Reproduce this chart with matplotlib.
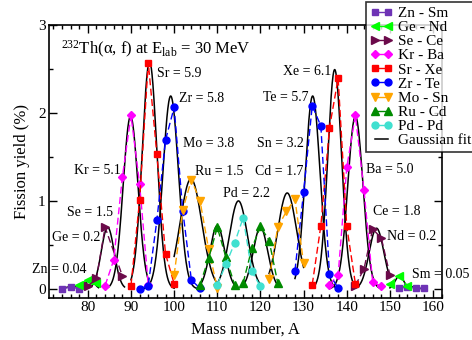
import numpy as np
import matplotlib.pyplot as plt
from matplotlib.lines import Line2D
from matplotlib.ticker import MultipleLocator, FormatStrFormatter

plt.rcParams["font.family"] = ["Liberation Serif", "DejaVu Serif"]
plt.rcParams["mathtext.fontset"] = "custom"
plt.rcParams["mathtext.rm"] = "Liberation Serif"
plt.rcParams["mathtext.it"] = "Liberation Serif:italic"

# datos: numero masico y rendimiento (%)
a_zn = [74, 76, 78]
y_zn = [0.005, 0.02, 0.005]
a_ge = [78, 80, 82]
y_ge = [0.05, 0.10, 0.07]
a_se = [80, 82, 84, 88]
y_se = [0.03, 0.12, 0.70, 0.15]
a_kr = [84, 86, 88, 90, 92, 94]
y_kr = [0.04, 0.33, 1.27, 1.97, 1.19, 0.05]
a_sr = [90, 92, 94, 96, 98, 100]
y_sr = [0.04, 1.01, 2.57, 1.53, 0.40, 0.06]
a_zr = [92, 94, 96, 98, 100, 102, 104, 106]
y_zr = [0.0, 0.04, 0.78, 1.69, 2.06, 0.89, 0.10, 0.01]
a_mo = [100, 102, 104, 106, 108, 110]
y_mo = [0.16, 0.90, 1.24, 1.00, 0.45, 0.01]
a_ru = [106, 108, 110, 112, 114]
y_ru = [0.05, 0.35, 0.70, 0.36, 0.05]
a_pd = [110, 112, 114, 116, 118, 120]
y_pd = [0.05, 0.28, 0.52, 0.81, 0.20, 0.03]
a_cd = [116, 118, 120, 122, 124]
y_cd = [0.07, 0.46, 0.71, 0.55, 0.07]
a_sn = [122, 124, 126, 128, 130]
y_sn = [0.11, 0.70, 0.88, 1.02, 0.29]
a_te = [128, 130, 132, 134, 136, 138]
y_te = [0.21, 1.10, 2.08, 1.85, 0.17, 0.01]
a_xe = [132, 134, 136, 138, 140, 142]
y_xe = [0.05, 0.72, 1.83, 2.39, 0.71, 0.06]
a_ba = [136, 138, 140, 142, 144, 146, 148]
y_ba = [0.05, 0.16, 1.38, 1.97, 1.12, 0.08, 0.03]
a_ce = [142, 144, 146, 148, 150]
y_ce = [0.04, 0.23, 0.68, 0.58, 0.16]
a_nd = [150, 152, 154]
y_nd = [0.06, 0.15, 0.04]
a_sm = [152, 154, 156, 158]
y_sm = [0.01, 0.02, 0.01, 0.01]

# parametros de los ajustes gaussianos (centro, amplitud, sigma, rango)
fit_centro = [76.5, 80.5, 84.6, 89.9, 94.3, 99.2, 103.9, 110.0, 114.9,
              120.0, 126.2, 132.1, 137.2, 142.0, 146.9, 152.2, 154.3]
fit_amp = [0.03, 0.11, 0.70, 1.96, 2.58, 2.19, 1.25, 0.72, 1.00,
           0.70, 1.09, 2.19, 2.49, 1.96, 0.69, 0.15, 0.03]
fit_sigma = [1.5, 1.0, 1.5, 1.7, 1.7, 1.8, 2.5, 1.7, 2.1,
             1.7, 2.2, 1.7, 1.6, 1.75, 1.7, 1.0, 1.5]
fit_desde = [74, 78.5, 80.5, 84, 90, 92, 100, 106, 110,
             116, 122, 128, 132, 136, 142, 150, 152]
fit_hasta = [79, 82.5, 88.5, 94, 100, 106, 110, 114, 120,
             124, 130, 138, 142, 148, 150, 154.5, 158]

pares = ["Zn - Sm", "Ge - Nd", "Se - Ce", "Kr - Ba", "Sr - Xe",
         "Zr - Te", "Mo - Sn", "Ru - Cd", "Pd - Pd"]
etiquetas = ["Zn = 0.04", "Ge = 0.2", "Se = 1.5", "Kr = 5.1", "Sr = 5.9",
             "Zr = 5.8", "Mo = 3.8", "Ru = 1.5", "Pd = 2.2", "Cd = 1.7",
             "Sn = 3.2", "Te = 5.7", "Xe = 6.1", "Ba = 5.0", "Ce = 1.8",
             "Nd = 0.2", "Sm = 0.05"]

colores = ["#6e33b5", "#00ff00", "#6b0a4a", "#ff00ff", "#ff0000",
           "#0000ff", "#ffa500", "#008b00", "#40e0d0"]
marcadores = ["s", "<", ">", "D", "s", "o", "v", "^", "o"]
tam_marc = [4.5, 5.5, 5.5, 4, 4.5, 5, 5.5, 5.5, 5]

grupos = [
    [(a_zn, y_zn), (a_sm, y_sm)],
    [(a_ge, y_ge), (a_nd, y_nd)],
    [(a_se, y_se), (a_ce, y_ce)],
    [(a_kr, y_kr), (a_ba, y_ba)],
    [(a_sr, y_sr), (a_xe, y_xe)],
    [(a_zr, y_zr), (a_te, y_te)],
    [(a_mo, y_mo), (a_sn, y_sn)],
    [(a_ru, y_ru), (a_cd, y_cd)],
    [(a_pd, y_pd)],
]

fig = plt.figure(figsize=(4.72, 3.40), dpi=100)
ax = fig.add_axes([0.1038, 0.124, 0.832, 0.8036])

# curvas de ajuste
for c, amp, s, x0, x1 in zip(fit_centro, fit_amp, fit_sigma, fit_desde, fit_hasta):
    xx = np.linspace(x0, x1, 200)
    ax.plot(xx, amp * np.exp(-(xx - c) ** 2 / (2 * s ** 2)),
            color="black", lw=1.1, zorder=2)

# datos por par de fragmentos
for i, grupo in enumerate(grupos):
    for a, y in grupo:
        ax.plot(a, y, color=colores[i], marker=marcadores[i], ms=tam_marc[i],
                lw=1.0, dashes=(5, 2.5), zorder=3)

# posiciones de los textos (A, rendimiento)
pos_etiquetas = [(67.0, 0.22), (71.7, 0.586), (75.1, 0.863), (76.7, 1.346),
                 (96.0, 2.443), (101.2, 2.157), (102.0, 1.646), (104.8, 1.338),
                 (111.25, 1.083), (118.75, 1.335), (119.15, 1.648),
                 (120.7, 2.175), (125.3, 2.47), (144.5, 1.357), (146.0, 0.874),
                 (149.35, 0.592), (155.2, 0.17)]
for txt, (px, py) in zip(etiquetas, pos_etiquetas):
    ax.text(px, py, txt, fontsize=10, ha="left", va="center", zorder=5)

ax.text(73.8, 2.66, r"$^{232}$Th(α, f) at E$_{\mathrm{lab}}$ = 30 MeV",
        fontsize=12, ha="left", va="baseline")

ax.set_xlim(71, 162)
ax.set_ylim(-0.1, 3)
ax.xaxis.set_major_locator(MultipleLocator(10))
ax.xaxis.set_minor_locator(MultipleLocator(2))
ax.yaxis.set_major_locator(MultipleLocator(1))
ax.yaxis.set_minor_locator(MultipleLocator(0.5))
ax.yaxis.set_major_formatter(FormatStrFormatter("%d"))
ax.tick_params(which="both", direction="in", top=True, right=True,
               labelsize=11, width=1.0)
ax.tick_params(which="major", length=6, pad=2.5)
ax.tick_params(which="minor", length=3)
for sp in ax.spines.values():
    sp.set_linewidth(1.2)

ax.set_xlabel("Mass number, A", fontsize=12, labelpad=5)
ax.set_ylabel("Fission yield (%)", fontsize=12, labelpad=6)

# leyenda con lineas solidas
handles = []
for i, nombre in enumerate(pares):
    handles.append(Line2D([], [], color=colores[i], marker=marcadores[i],
                          ms=tam_marc[i], lw=1.0, label=nombre))
handles.append(Line2D([], [], color="black", lw=1.1, label="Gaussian fit"))

leg = fig.legend(handles=handles, loc="upper left", bbox_to_anchor=(0.775, 0.995),
                 fontsize=11, frameon=True, fancybox=False, numpoints=2,
                 handlelength=1.45, handletextpad=0.35, labelspacing=0.03,
                 borderpad=0.3, borderaxespad=0)
leg.get_frame().set_edgecolor("black")
leg.get_frame().set_linewidth(1.2)

fig.savefig("out.png", dpi=100)
